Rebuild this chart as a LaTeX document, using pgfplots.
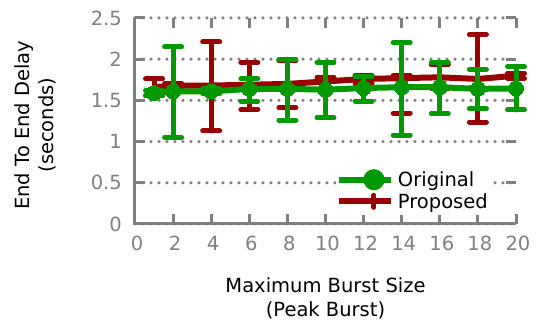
\documentclass[border=0pt]{standalone}
\usepackage{fontspec}
\setmainfont{DejaVu Sans}
\usepackage{pgfplots}
\pgfplotsset{compat=1.18}
\usepackage{pgfplotstable}
\definecolor{cgreen}{RGB}{0,153,0}
\definecolor{cred}{RGB}{153,0,0}
\definecolor{cgray}{RGB}{128,128,128}
\newcommand{\fs}{\fontsize{19.5pt}{23.5pt}\selectfont}

\pgfplotstableread{
x y lo hi
1 1.59 1.56 1.62
2 1.61 1.05 2.15
4 1.61 1.58 1.64
6 1.64 1.49 1.76
8 1.64 1.26 2.00
10 1.63 1.29 1.96
12 1.65 1.49 1.79
14 1.66 1.08 2.20
16 1.66 1.34 1.96
18 1.64 1.40 1.875
20 1.645 1.385 1.91
}\origtab

\pgfplotstableread{
x y lo hi
1 1.66 1.56 1.76
2 1.68 1.64 1.71
4 1.68 1.13 2.21
6 1.69 1.39 1.96
8 1.70 1.41 1.98
10 1.73 1.63 1.78
12 1.76 1.70 1.80
14 1.77 1.345 1.80
16 1.78 1.65 1.93
18 1.76 1.235 2.30
20 1.80 1.77 1.83
}\proptab

\begin{document}
\begin{tikzpicture}
\path[use as bounding box] (-135pt,-99pt) rectangle (401pt,224pt);
\begin{axis}[
  at={(0,0)}, anchor=south west,
  scale only axis, width=381pt, height=206pt,
  xmin=0, xmax=20, ymin=0, ymax=2.5,
  xtick={0,2,4,6,8,10,12,14,16,18,20},
  ytick={0,0.5,1,1.5,2,2.5},
  xtick pos=both, ytick pos=both, tick align=inside,
  major tick length=10pt,
  every tick/.style={cgray, line width=3pt},
  separate axis lines,
  axis line style={draw=none},
  ymajorgrids,
  major grid style={cgray, line width=3.5pt, dash pattern=on 0pt off 8pt, line cap=round},
  /pgf/number format/assume math mode=true,
  tick label style={font=\fs, text=cgray, inner sep=0pt},
  xticklabel style={yshift=-12pt, xshift=2pt},
  yticklabel style={xshift=-13pt},
  xlabel={Maximum Burst Size\\(Peak Burst)},
  ylabel={End To End Delay\\(seconds)},
  xlabel style={font=\fs, align=center, inner sep=0pt, at={(axis description cs:0.5,-0.262)}, anchor=north},
  ylabel style={font=\fs, align=center, inner sep=0pt, at={(axis description cs:-0.207,0.48)}, anchor=south, rotate=0},
  legend style={draw=none, fill=white, font=\fs, at={(rel axis cs:0.527,0.045)}, anchor=south west, inner xsep=0pt, inner ysep=3pt, row sep=1pt,
    nodes={inner xsep=4pt}},
  legend cell align=left,
  reverse legend,
  clip=false,
]
\addplot[cred, line width=6pt, mark=none,
  legend image code/.code={
    \path (-18pt,0pt) -- (34pt,0pt);
    \draw[cred, line width=6pt] (0pt,0pt) -- (34pt,0pt);
    \draw[cred, line width=5pt, line cap=round] (17pt,-6pt) -- (17pt,6pt);
  },
  error bars/.cd, y dir=both, y explicit,
  error bar style={line width=5pt, line cap=round},
  error mark options={rotate=90, line width=5pt, mark size=8.5pt, line cap=round}]
  table[x=x, y=y, y error plus expr=\thisrow{hi}-\thisrow{y}, y error minus expr=\thisrow{y}-\thisrow{lo}] {\proptab};
\addlegendentry{Proposed}
\addplot[cgreen, line width=6pt, mark=*, mark size=7.5pt, mark options={solid, fill=cgreen, line width=0pt},
  legend image code/.code={
    \path (-18pt,0pt) -- (34pt,0pt);
    \draw[cgreen, line width=6pt] (0pt,0pt) -- (34pt,0pt);
    \fill[cgreen] (17pt,0pt) circle (7.5pt);
    \draw[cgreen, line width=5pt, line cap=round] (17pt,-3pt) -- (17pt,3pt);
  },
  error bars/.cd, y dir=both, y explicit,
  error bar style={line width=5pt, line cap=round},
  error mark options={rotate=90, line width=5pt, mark size=8.5pt, line cap=round}]
  table[x=x, y=y, y error plus expr=\thisrow{hi}-\thisrow{y}, y error minus expr=\thisrow{y}-\thisrow{lo}] {\origtab};
\addlegendentry{Original}
\draw[cgray, line width=3pt] (rel axis cs:0,1) -- (rel axis cs:0,0) -- (rel axis cs:1,0);
\end{axis}
\end{tikzpicture}
\end{document}
